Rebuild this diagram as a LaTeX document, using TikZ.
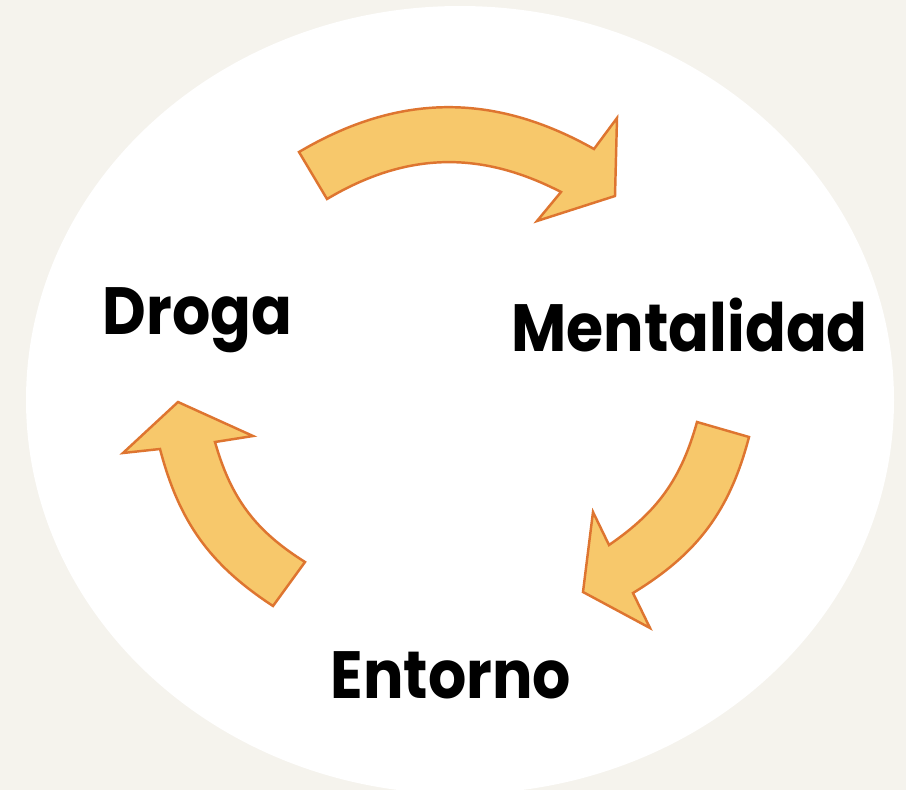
\documentclass[tikz,border=0pt]{standalone}
\usepackage{fontspec}
\setmainfont{Poppins}
\newfontfamily\rotulofont{Poppins}[FakeStretch=0.9]
\definecolor{fondo}{HTML}{F5F3ED}
\definecolor{relleno}{HTML}{F7C86B}
\definecolor{borde}{HTML}{DE7530}
\begin{document}
\begin{tikzpicture}[x=0.01cm,y=0.01cm,
  flecha/.style={fill=relleno,draw=borde,line width=0.7pt,line join=miter},
  rotulo/.style={font=\rotulofont\fontsize{19}{23}\selectfont\bfseries,inner sep=0pt,anchor=base west}]
 \useasboundingbox (0,0) rectangle (906,790);
 \fill[fondo] (0,0) rectangle (906,790);
 \clip (0,0) rectangle (906,790);
 \fill[white] (460,390) ellipse [x radius=434,y radius=394];
 % flecha de arriba
 \draw[flecha] (299,638) to[bend left=30] (594,641) -- (617,672) -- (615,594) -- (537,569) -- (561,598) to[bend right=29] (327,591) -- cycle;
 % flecha de la derecha
 \draw[flecha] (749,353) to[bend left=22] (633,197) -- (650,162) -- (583,198) -- (593,278) -- (609,245) to[bend right=20] (697,368) -- cycle;
 % flecha de la izquierda
 \draw[flecha] (273,184) to[bend left=21] (160,341) -- (123,337) -- (178,388) -- (253,354) -- (215,348) to[bend right=21] (305,228) -- cycle;
 \node[rotulo] (droga) at (102,456) {Droga};
 \node[rotulo] (mental) at (511,439) {Mentalidad};
 \node[rotulo] (entorno) at (330,92) {Entorno};
\end{tikzpicture}
\end{document}
